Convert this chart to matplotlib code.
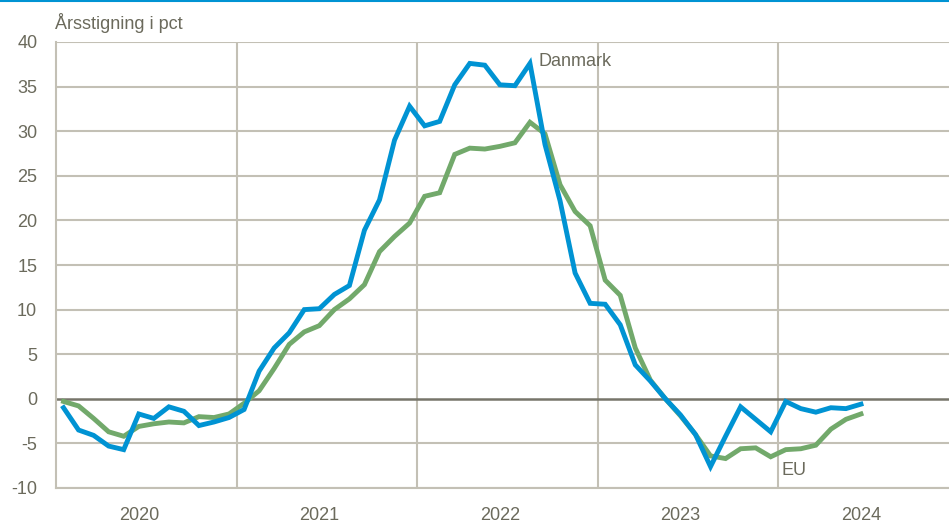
import numpy as np
import matplotlib
matplotlib.use("Agg")
import matplotlib.pyplot as plt
from matplotlib.lines import Line2D

# ── Data (monthly, Jan 2020 - Jun 2024) ─────────────────────────────────────
danmark = [-1.0, -3.5, -4.1, -5.3, -5.7, -1.7, -2.2, -0.9, -1.4, -3.0, -2.6, -2.1,
           -1.2, 3.1, 5.7, 7.4, 10.0, 10.1, 11.7, 12.7, 18.9, 22.3, 29.0, 32.8,
           30.6, 31.1, 35.2, 37.6, 37.4, 35.2, 35.1, 37.6, 28.5, 22.2, 14.1, 10.7,
           10.6, 8.3, 3.8, 2.0, 0.0, -1.8, -4.0, -7.6, -4.2, -0.9, -2.3, -3.7,
           -0.3, -1.1, -1.5, -1.0, -1.1, -0.6]
eu = [-0.3, -0.8, -2.2, -3.7, -4.2, -3.1, -2.8, -2.6, -2.7, -2.0, -2.1, -1.7,
      -0.5, 0.9, 3.4, 6.1, 7.5, 8.2, 10.0, 11.2, 12.8, 16.5, 18.2, 19.7,
      22.7, 23.1, 27.4, 28.1, 28.0, 28.3, 28.7, 31.0, 29.7, 24.0, 21.0, 19.4,
      13.3, 11.6, 5.7, 2.1, 0.0, -1.9, -4.0, -6.4, -6.7, -5.6, -5.5, -6.5,
      -5.7, -5.6, -5.2, -3.4, -2.3, -1.7]
years = ["2020", "2021", "2022", "2023", "2024"]
yticks = [-10, -5, 0, 5, 10, 15, 20, 25, 30, 35, 40]

# ── Style ───────────────────────────────────────────────────────────────────
BLUE = "#0093d3"
GREEN = "#72a96b"
TEXT = "#6b6a5c"
GRID = "#c3c0b5"
FS = 13
plt.rcParams["font.family"] = ["Liberation Sans Narrow", "Liberation Sans", "DejaVu Sans"]
plt.rcParams["axes.unicode_minus"] = False

fig = plt.figure(figsize=(9.49, 5.24), dpi=100)
ax = fig.add_axes([56 / 949, 1 - 488 / 524, 893 / 949, 446 / 524])

x = np.arange(len(danmark))
ax.plot(x, eu, color=GREEN, lw=3.5, solid_joinstyle="miter", zorder=3)
ax.plot(x, danmark, color=BLUE, lw=3.5, solid_joinstyle="miter", zorder=4)

ax.set_ylim(-10, 40)
ax.set_xlim(-0.5, 58.85)
ax.set_yticks(yticks)
for v in yticks:
    if v != 0:
        ax.axhline(v, color=GRID, lw=1.5, zorder=1)
ax.axhline(0, color="#77756a", lw=1.8, zorder=2)
for b in [11.5, 23.5, 35.5, 47.5]:
    ax.axvline(b, color=GRID, lw=1.5, zorder=1)

ax.set_xticks([5, 17, 29, 41, 53])
ax.set_xticklabels(years)
ax.tick_params(axis="both", length=0, labelsize=FS, labelcolor=TEXT)
ax.tick_params(axis="x", pad=13.5)
ax.tick_params(axis="y", pad=13.5)

for s in ["top", "right"]:
    ax.spines[s].set_visible(False)
for s in ["left", "bottom"]:
    ax.spines[s].set_color(GRID)
    ax.spines[s].set_linewidth(1.5)

ax.text(31.6, 37.8, "Danmark", color=TEXT, fontsize=FS, ha="left", va="center")
ax.text(47.7, -8.0, "EU", color=TEXT, fontsize=FS, ha="left", va="center")

fig.text(55 / 949, 1 - 23 / 524, "Årsstigning i pct", color=TEXT, fontsize=FS,
         ha="left", va="center")
fig.add_artist(Line2D([0, 1], [1 - 1 / 524, 1 - 1 / 524], color=BLUE, lw=1.5,
                      transform=fig.transFigure))

fig.savefig("out.png", dpi=100)
